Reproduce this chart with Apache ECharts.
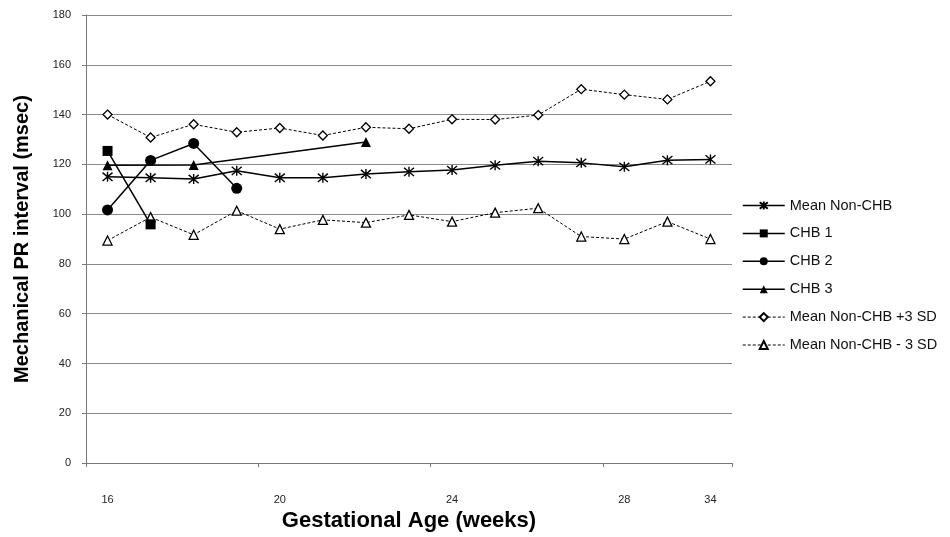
<!DOCTYPE html>
<html><head><meta charset="utf-8">
<script src="https://cdn.jsdelivr.net/npm/echarts@6/dist/echarts.min.js"></script>
<style>html,body{margin:0;padding:0;background:#fff}#c{width:950px;height:537px}</style>
</head><body><div id="c"></div>
<script>
const xLabels = ['16','','','','20','','','','24','','','','28','','34'];
const yTicks = [0,20,40,60,80,100,120,140,160,180];
const meanNonCHB = [115.0,114.6,114.1,117.4,114.6,114.6,116.1,117.0,117.7,119.6,121.3,120.6,119.0,121.7,122.0];
const chb1 = [125.4,95.9,null,null,null,null,null,null,null,null,null,null,null,null,null];
const chb2 = [101.7,121.6,128.4,110.4,null,null,null,null,null,null,null,null,null,null,null];
const chb3 = [119.6,null,119.7,null,null,null,129.0,null,null,null,null,null,null,null,null];
const meanPlus3SD = [140.0,130.8,136.1,132.9,134.6,131.6,134.9,134.3,138.1,138.0,139.8,150.2,148.0,146.1,153.4];
const meanMinus3SD = [89.4,98.8,91.7,101.4,94.0,97.7,96.6,99.7,97.0,100.6,102.4,91.0,90.0,97.0,90.0];

const FONT = 'Liberation Sans, Arial, sans-serif';
const asterisk = 'path://M0,0L10,10M10,0L0,10M5,-1L5,11';
const solid = {color:'#000', width:1.5, type:'solid'};
const dashed = {color:'#000', width:1, type:[3,2]};

const chart = echarts.init(document.getElementById('c'));
chart.setOption({
  animation:false,
  backgroundColor:'#fff',
  grid:{left:86, right:218, top:15, bottom:73, containLabel:false},
  legend:{
    orient:'vertical', left:737, top:193, itemWidth:42, itemHeight:10, itemGap:12.9,
    lineStyle:{width:'inherit'},
    textStyle:{fontFamily:FONT, fontSize:14.5, color:'#111'},
    data:['Mean Non-CHB','CHB 1','CHB 2','CHB 3','Mean Non-CHB +3 SD','Mean Non-CHB - 3 SD']
  },
  xAxis:{
    type:'category', data:xLabels, boundaryGap:true,
    name:'Gestational Age (weeks)', nameLocation:'middle', nameGap:46,
    nameTextStyle:{fontFamily:FONT, fontSize:22, fontWeight:'bold', color:'#000'},
    axisLine:{lineStyle:{color:'#777', width:1}},
    axisTick:{show:true, interval:function(i){return i%4===0;}, length:4, lineStyle:{color:'#777'}},
    axisLabel:{interval:0, margin:31, fontFamily:FONT, fontSize:11, color:'#222'},
    splitLine:{show:false}
  },
  yAxis:{
    type:'value', min:0, max:180, interval:20,
    name:'Mechanical PR interval (msec)', nameLocation:'middle', nameGap:54, nameRotate:90,
    nameTextStyle:{fontFamily:FONT, fontSize:20, fontWeight:'bold', color:'#000'},
    axisLine:{show:true, lineStyle:{color:'#777', width:1}},
    axisTick:{show:true, length:4, lineStyle:{color:'#777'}},
    axisLabel:{margin:15, fontFamily:FONT, fontSize:11, color:'#222'},
    splitLine:{show:true, lineStyle:{color:'#8a8a8a', width:1}}
  },
  series:[
    {name:'Mean Non-CHB', type:'line', data:meanNonCHB, symbol:asterisk, symbolSize:10,
     itemStyle:{color:'#000', borderColor:'#000', borderWidth:1.4}, lineStyle:solid, z:5},
    {name:'CHB 1', type:'line', data:chb1, symbol:'rect', symbolSize:10,
     itemStyle:{color:'#000'}, lineStyle:solid, z:6},
    {name:'CHB 2', type:'line', data:chb2, symbol:'circle', symbolSize:11,
     itemStyle:{color:'#000'}, lineStyle:solid, z:6},
    {name:'CHB 3', type:'line', data:chb3, connectNulls:true, symbol:'triangle', symbolSize:10,
     itemStyle:{color:'#000'}, lineStyle:solid, z:6},
    {name:'Mean Non-CHB +3 SD', type:'line', data:meanPlus3SD, symbol:'diamond', symbolSize:9,
     itemStyle:{color:'#fff', borderColor:'#000', borderWidth:1.3}, lineStyle:dashed, z:4},
    {name:'Mean Non-CHB - 3 SD', type:'line', data:meanMinus3SD, symbol:'triangle', symbolSize:9,
     itemStyle:{color:'#fff', borderColor:'#000', borderWidth:1.3}, lineStyle:dashed, z:4}
  ]
});
</script></body></html>
